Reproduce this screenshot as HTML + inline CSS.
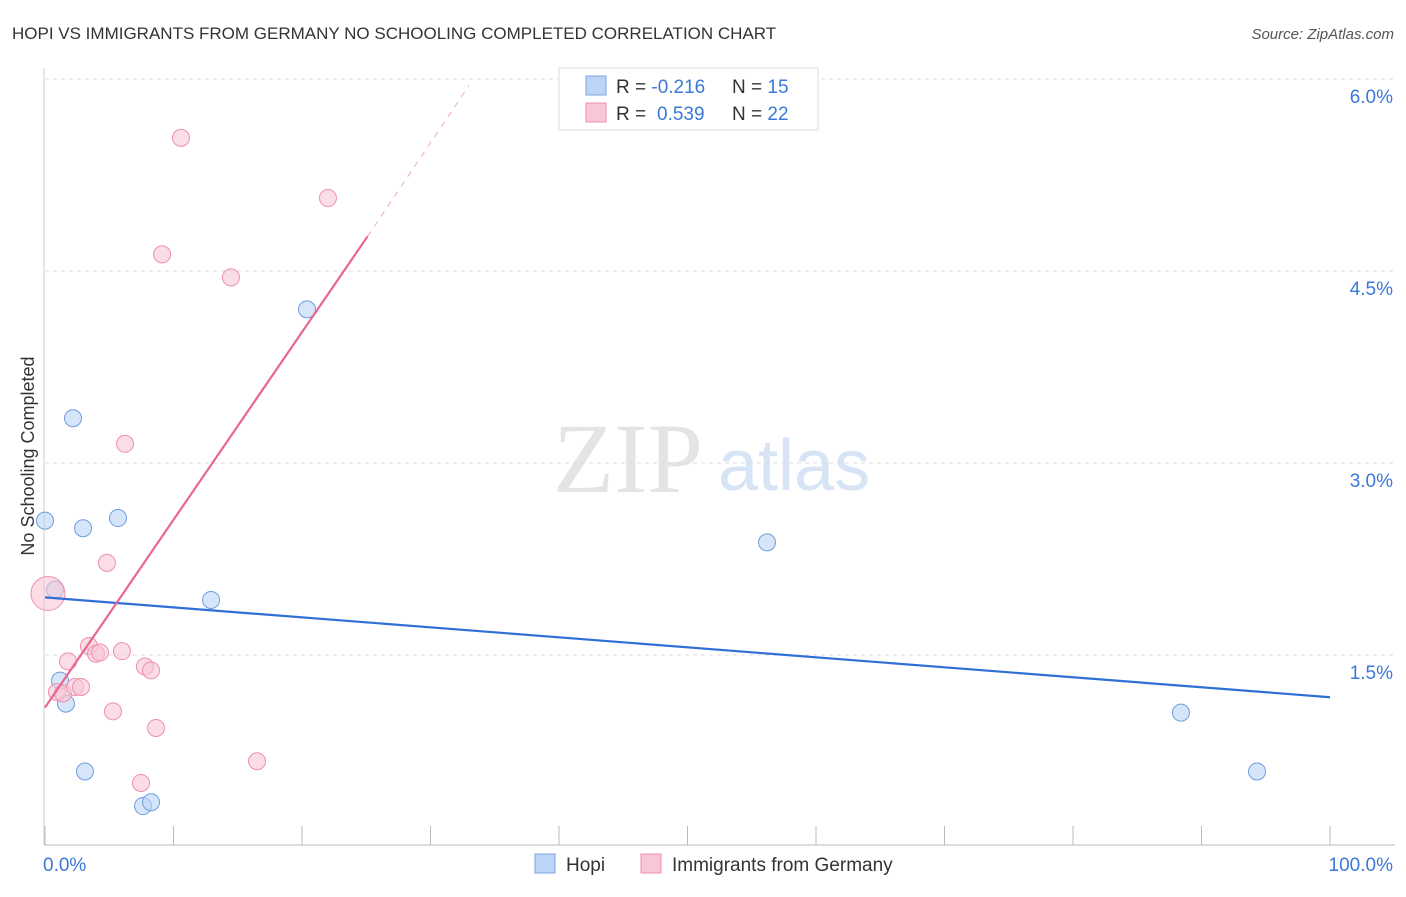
<!DOCTYPE html>
<html><head><meta charset="utf-8"><style>
body{margin:0;background:#fff;font-family:"Liberation Sans",sans-serif;}
</style></head><body>
<svg width="1406" height="892" xmlns="http://www.w3.org/2000/svg" id="chart">
<text x="12" y="39" font-size="17" fill="#333">HOPI VS IMMIGRANTS FROM GERMANY NO SCHOOLING COMPLETED CORRELATION CHART</text>
<text x="1394" y="39" font-size="15" fill="#555" font-style="italic" text-anchor="end">Source: ZipAtlas.com</text>
<text x="553" y="492" font-size="100" fill="#e4e4e4" font-family="Liberation Serif,serif">ZIP</text>
<text x="718" y="490" font-size="72" fill="#d6e4f5">atlas</text>
<text transform="translate(34,456) rotate(-90)" font-size="18" fill="#333" text-anchor="middle">No Schooling Completed</text>
<g id="grid"></g><g id="axes"></g><g id="marks"></g>
<g>
<rect x="559" y="68" width="259" height="62" fill="#fff" stroke="#ddd"/>
<rect x="586" y="76" width="20" height="19" fill="#bcd4f5" stroke="#7ba6e0"/>
<rect x="586" y="103" width="20" height="19" fill="#f9c6d6" stroke="#ee90ad"/>
<text x="616" y="93" font-size="19" fill="#333">R = <tspan fill="#3b78d8">-0.216</tspan><tspan x="732">N = </tspan><tspan fill="#3b78d8">15</tspan></text>
<text x="616" y="120" font-size="19" fill="#333">R = <tspan fill="#3b78d8" x="657">0.539</tspan><tspan x="732">N = </tspan><tspan fill="#3b78d8">22</tspan></text>
</g>
<g>
<rect x="535" y="854" width="20" height="19" fill="#bcd4f5" stroke="#7ba6e0"/>
<text x="566" y="871" font-size="19" fill="#333">Hopi</text>
<rect x="641" y="854" width="20" height="19" fill="#f9c6d6" stroke="#ee90ad"/>
<text x="672" y="871" font-size="19" fill="#333">Immigrants from Germany</text>
</g>
</svg>
<script>
const yTicks=[1.5,3.0,4.5,6.0];
const yTickLabels=["1.5%","3.0%","4.5%","6.0%"];
const xTickLabels=["0.0%","100.0%"];
const hopiX=[0,2.18,2.96,5.68,0.78,1.17,1.63,3.11,7.63,8.25,12.92,20.39,56.19,88.40,94.32];
const hopiY=[2.55,3.35,2.49,2.57,2.01,1.30,1.12,0.59,0.32,0.35,1.93,4.20,2.38,1.05,0.59];
const gerX=[10.58,22.02,9.11,14.47,6.23,4.82,0.23,3.42,1.79,3.97,4.28,5.99,7.78,8.25,0.93,1.40,2.33,2.80,5.29,8.64,16.50,7.47];
const gerY=[5.54,5.07,4.63,4.45,3.15,2.22,1.98,1.57,1.45,1.51,1.52,1.53,1.41,1.38,1.21,1.20,1.25,1.25,1.06,0.93,0.67,0.50];
const hopiLine=[[0,1.95],[100,1.17]];
const gerLine=[[0,1.09],[25.1,4.77]];
const gerLineExt=[[25.1,4.77],[33,5.95]];
const NS="http://www.w3.org/2000/svg";
const sx=v=>45+v*12.85, sy=v=>847-v*128;
function mk(p,t,a){const e=document.createElementNS(NS,t);for(const k in a)e.setAttribute(k,a[k]);p.appendChild(e);return e;}
const grid=document.getElementById('grid'),axes=document.getElementById('axes'),marks=document.getElementById('marks');
yTicks.forEach((v,i)=>{
 const l=mk(grid,'line',{x1:45,x2:1395,y1:sy(v),y2:sy(v),stroke:'#ddd','stroke-dasharray':'4,4'});
 
 
 const t=mk(grid,'text',{x:1393,y:sy(v)+24,'font-size':19,fill:'#3b78d8','text-anchor':'end'});t.textContent=yTickLabels[i];
 
 
});
mk(axes,'line',{x1:44,x2:44,y1:68,y2:845,stroke:'#ccc'});
const xa=mk(axes,'line',{x1:44,x2:1395,y1:845,y2:845,stroke:'#bbb'});


for(let i=0;i<=10;i++){const tk=mk(axes,'line',{x1:sx(i*10),x2:sx(i*10),y1:826,y2:845,stroke:'#bbb'});
 
 }
[[0,'start'],[100,'end']].forEach((d,i)=>{const t=mk(axes,'text',{x:sx(d[0])+(i?63:-2),y:871,'font-size':19,fill:'#3b78d8','text-anchor':d[1]});t.textContent=xTickLabels[i];
 
 });
function pts(X,Y,fill,stroke,name){X.forEach((x,i)=>{const big=(name==='germany-point'&&i===6);
 const c=mk(marks,'circle',{cx:sx(x),cy:sy(Y[i]),r:big?17:8.5,fill:fill,'fill-opacity':0.6,stroke:stroke,'stroke-width':1});
 
 });}
pts(hopiX,hopiY,'#bcd4f5','#6f9de0','hopi-point');
pts(gerX,gerY,'#f9c6d6','#ee90ad','germany-point');
const l1=mk(marks,'line',{x1:sx(hopiLine[0][0]),y1:sy(hopiLine[0][1]),x2:sx(hopiLine[1][0]),y2:sy(hopiLine[1][1]),stroke:'#2f6fd6','stroke-width':2.2});


const l2=mk(marks,'line',{x1:sx(gerLine[0][0]),y1:sy(gerLine[0][1]),x2:sx(gerLine[1][0]),y2:sy(gerLine[1][1]),stroke:'#e8678f','stroke-width':2.2});


const l3=mk(marks,'line',{x1:sx(gerLineExt[0][0]),y1:sy(gerLineExt[0][1]),x2:sx(gerLineExt[1][0]),y2:sy(gerLineExt[1][1]),stroke:'#f0a8bf','stroke-width':1,'stroke-dasharray':'6,6'});


</script>
</body></html>
